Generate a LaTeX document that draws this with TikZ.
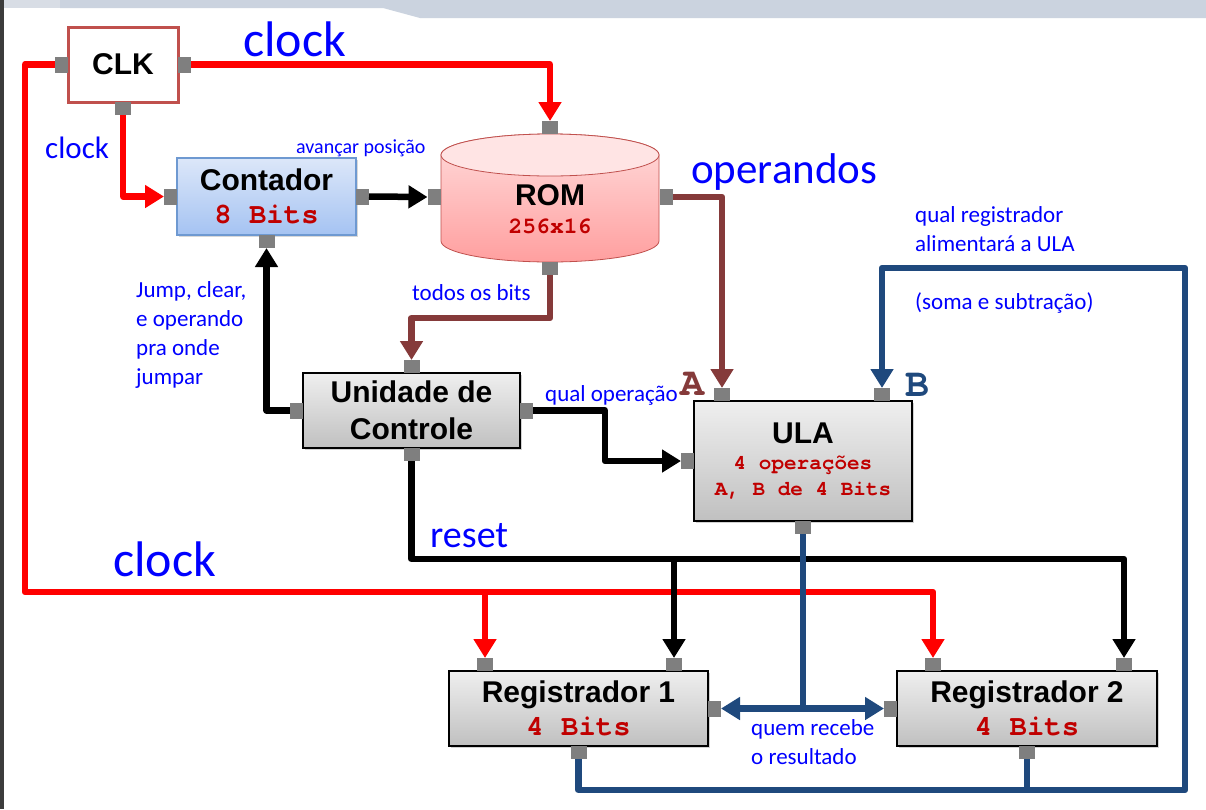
\documentclass[tikz,border=0pt]{standalone}
\usepackage{fontspec}
\setmainfont{Carlito}
\newfontfamily\headfont{Liberation Sans}
\newfontfamily\codefont{TeX Gyre Cursor}
\usepackage{xcolor}
\usepackage{tikz}
\usetikzlibrary{arrows.meta,positioning,shadows,backgrounds}
\definecolor{clkred}{HTML}{C0504D}
\definecolor{wirered}{HTML}{FF0000}
\definecolor{wirebrown}{HTML}{853A3A}
\definecolor{wireblue}{HTML}{1F497D}
\definecolor{labelblue}{HTML}{0000FF}
\definecolor{bitred}{HTML}{C00000}
\definecolor{portgray}{HTML}{7F7F7F}
\definecolor{boxtop}{HTML}{EFEFEF}
\definecolor{boxbot}{HTML}{C0C0C0}
\definecolor{conttop}{HTML}{DCE7F9}
\definecolor{contbot}{HTML}{A5C3F2}
\definecolor{contline}{HTML}{6E99D1}
\definecolor{romtop}{HTML}{FFDCDC}
\definecolor{rombot}{HTML}{FF9F9F}
\definecolor{romcap}{HTML}{FFE4E4}
\definecolor{slidegray}{HTML}{CBD3DF}
\definecolor{slidelight}{HTML}{D8DDE5}
\definecolor{frameedge}{HTML}{3C3C3C}
\newcommand{\bitstext}[2]{{\codefont\bfseries\fontsize{#1}{#1}\selectfont\textcolor{bitred}{#2}}}
\tikzset{
  unitbox/.style={
    rectangle, draw=black, line width=1.2, top color=boxtop, bottom color=boxbot,
    drop shadow={shadow xshift=2pt, shadow yshift=-2pt, opacity=0.35},
    font=\headfont\bfseries\fontsize{30}{37}\selectfont, align=center,
    inner sep=0, outer sep=0
  },
  clkbox/.style={
    rectangle, draw=clkred, line width=3, fill=white,
    minimum width=110, minimum height=75,
    font=\headfont\bfseries\fontsize{30}{37}\selectfont,
    inner sep=0, outer sep=0
  },
  contbox/.style={
    rectangle, draw=contline, line width=1.5, top color=conttop, bottom color=contbot,
    drop shadow={shadow xshift=2pt, shadow yshift=-2pt, opacity=0.3},
    minimum width=179, minimum height=77,
    font=\headfont\bfseries\fontsize{30}{37}\selectfont, align=center,
    inner sep=0, outer sep=0
  },
  rombox/.style={
    rectangle, minimum width=219, minimum height=106,
    font=\headfont\bfseries\fontsize{30}{37}\selectfont, align=center,
    inner sep=0, outer sep=0
  },
  porth/.style={rectangle, fill=portgray, minimum width=13, minimum height=16,
    inner sep=0, outer sep=0},
  portv/.style={rectangle, fill=portgray, minimum width=16, minimum height=13,
    inner sep=0, outer sep=0},
  sigarrow/.style={
    -{Triangle[length=19pt,width=22pt]}, line width=6.5, line join=round, color=#1
  },
  sigarrow/.default=black,
  note/.style={text=labelblue, inner sep=0, align=left,
    font=\fontsize{23}{29}\selectfont},
  portname/.style={inner sep=0, font=\codefont\bfseries\fontsize{40}{40}\selectfont},
}
\begin{document}
\begin{tikzpicture}[x=1pt, y=-1pt]
\useasboundingbox (0,0) rectangle (1206,809);
% slide frame
\fill[white] (0,0) rectangle (1206,809);
\fill[slidegray] (60,0) -- (1206,0) -- (1206,18) -- (420,18) -- (383,8) -- (60,8) -- cycle;
\fill[slidelight] (4,0) rectangle (60,8);
\fill[frameedge] (0,0) rectangle (4,809);

% blocks
\node[clkbox] (clk) at (123,64.5) {CLK};
\node[contbox] (cont) at (266.5,196.5) {Contador\\[-4pt]\bitstext{29}{8 Bits}};
\shade[top color=romtop, bottom color=rombot, draw=clkred, line width=0.8]
  (441,155) -- (441,241) arc[start angle=180, end angle=0, x radius=109, y radius=21]
  -- (659,155) arc[start angle=0, end angle=-180, x radius=109, y radius=21] -- cycle;
\draw[clkred, line width=0.8, fill=romcap] (550,155) ellipse [x radius=109, y radius=21];
\node[rombox] (rom) at (550,209) {ROM\\[-9pt]\bitstext{23}{256x16}};
\node[unitbox, minimum width=217, minimum height=75] (uc) at (411.5,410.5) {Unidade de\\Controle};
\node[unitbox, minimum width=218, minimum height=120] (ula) at (803,461)
  {ULA\\[-11pt]\bitstext{21}{4 operações}\\[-11pt]\bitstext{21}{A, B de 4 Bits}};
\node[unitbox, minimum width=259, minimum height=75] (r1) at (578.5,708.5)
  {Registrador 1\\[-4pt]\bitstext{29}{4 Bits}};
\node[unitbox, minimum width=260, minimum height=75] (r2) at (1027,708.5)
  {Registrador 2\\[-4pt]\bitstext{29}{4 Bits}};

% ports
\node[porth, anchor=east] (clk-w) at (clk.west) {};
\node[porth, anchor=west] (clk-e) at (clk.east) {};
\node[portv, anchor=north] (clk-s) at (clk.south) {};
\node[porth, anchor=east] (cont-w) at (cont.west) {};
\node[porth, anchor=west] (cont-e) at (cont.east) {};
\node[portv, anchor=north] (cont-s) at (cont.south) {};
\node[portv, anchor=south] (rom-n) at ([yshift=22]rom.north) {};
\node[porth, anchor=east] (rom-w) at ([yshift=12]rom.west) {};
\node[porth, anchor=west] (rom-e) at ([yshift=12]rom.east) {};
\node[portv, anchor=north] (rom-s) at (rom.south) {};
\node[portv, anchor=south] (uc-n) at (uc.north) {};
\node[porth, anchor=east] (uc-w) at (uc.west) {};
\node[porth, anchor=west] (uc-e) at (uc.east) {};
\node[portv, anchor=north] (uc-s) at (uc.south) {};
\node[portv, anchor=south] (ula-a) at ([xshift=-81]ula.north) {};
\node[portv, anchor=south] (ula-b) at ([xshift=79]ula.north) {};
\node[porth, anchor=east] (ula-w) at (ula.west) {};
\node[portv, anchor=north] (ula-s) at (ula.south) {};
\node[portv, anchor=south] (r1-nw) at ([xshift=-93.5]r1.north) {};
\node[portv, anchor=south] (r1-ne) at ([xshift=95.5]r1.north) {};
\node[porth, anchor=west] (r1-e) at (r1.east) {};
\node[portv, anchor=north] (r1-s) at (r1.south) {};
\node[portv, anchor=south] (r2-nw) at ([xshift=-94]r2.north) {};
\node[portv, anchor=south] (r2-ne) at ([xshift=97]r2.north) {};
\node[porth, anchor=east] (r2-w) at (r2.west) {};
\node[portv, anchor=north] (r2-s) at (r2.south) {};
\node[portname, text=wirebrown] (ula-a-name) at (692,384) {A};
\node[portname, text=wireblue] (ula-b-name) at (917,385) {B};

% clock
\coordinate (clkbus) at (25,592);
\draw[sigarrow=wirered] (clk-e.east) -| (rom-n.north);
\draw[sigarrow=wirered] (clk-s.south) |- (cont-w.west);
\draw[sigarrow=wirered] (clk-w.west) -| (clkbus) -| (r1-nw.north);
\draw[sigarrow=wirered] (clkbus) -| (r2-nw.north);

% control
\draw[sigarrow] (cont-e.east) -- (rom-w.west);
\draw[sigarrow] (uc-w.west) -| (cont-s.south);
\draw[sigarrow] (uc-e.east) -- ++(72,0) |- (ula-w.west);
\draw[sigarrow] (uc-s.south) -- ++(0,98) coordinate (rstbus) -| (r2-ne.north);
\draw[sigarrow] (rstbus) -| (r1-ne.north);

% rom data
\draw[sigarrow=wirebrown] (rom-s.south) -- ++(0,43) -| (uc-n.north);
\draw[sigarrow=wirebrown] (rom-e.east) -| (ula-a.north);

% result and register feedback
\coordinate (loopse) at (1185,790);
\coordinate (loopne) at (1185,268);
\draw[sigarrow=wireblue, -] (ula-s.south) -- (ula-s.south |- r1-e.east);
\draw[sigarrow=wireblue, {Triangle[length=19pt,width=22pt]}-{Triangle[length=19pt,width=22pt]}]
  (r1-e.east) -- (r2-w.west);
\draw[sigarrow=wireblue] (r1-s.south) |- (loopse) -- (loopne) -| (ula-b.north);
\draw[sigarrow=wireblue, -] (r2-s.south) -- (r2-s.south |- loopse);

% labels
\node[note, font=\fontsize{50}{60}\selectfont, anchor=base west] (clk-top-lbl) at (243,56) {clock};
\node[note, font=\fontsize{31}{38}\selectfont, anchor=base west] (clk-side-lbl) at (45,158) {clock};
\node[note, font=\fontsize{20}{24}\selectfont, anchor=base west] (adv-lbl) at (296,153) {avançar posição};
\node[note, font=\fontsize{43}{52}\selectfont, anchor=base west] (op-lbl) at (691,183) {operandos};
\node[note, anchor=north west] (sel-lbl) at (915,206) {qual registrador\\alimentará a ULA\\[29pt](soma e subtração)};
\node[note, anchor=base west] (bits-lbl) at (412,300) {todos os bits};
\node[note, anchor=north west] (jump-lbl) at (136,281) {Jump, clear,\\e operando\\pra onde\\jumpar};
\node[note, anchor=base west] (opsel-lbl) at (545,401) {qual operação};
\node[note, font=\fontsize{38}{46}\selectfont, anchor=base west] (rst-lbl) at (430,547) {reset};
\node[note, font=\fontsize{50}{60}\selectfont, anchor=base west] (clk-bot-lbl) at (113,576) {clock};
\node[note, anchor=north west] (res-lbl) at (751,719) {quem recebe\\o resultado};
\end{tikzpicture}
\end{document}
